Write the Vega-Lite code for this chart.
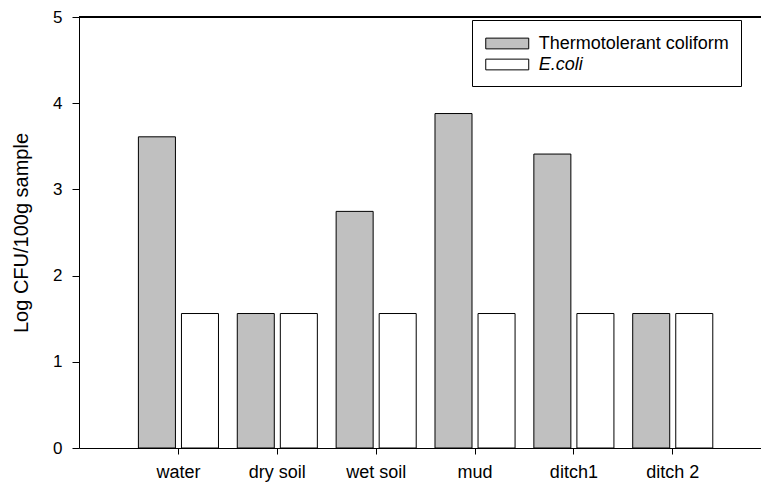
{
  "$schema": "https://vega.github.io/schema/vega-lite/v6.json",
  "autosize": {"type": "none"},
  "padding": {"left": 79, "top": 17, "right": 0, "bottom": 34},
  "width": 682,
  "height": 431,
  "background": "white",
  "config": {
    "view": {"stroke": null},
    "font": "Liberation Sans",
    "axis": {"labelFont": "Liberation Sans", "titleFont": "Liberation Sans", "labelColor": "black", "titleColor": "black", "domainColor": "black", "tickColor": "black", "grid": false, "titleFontWeight": "normal"},
    "legend": {"labelFont": "Liberation Sans"}
  },
  "data": {"values": [
    {"site": "water", "type": "Thermotolerant coliform", "value": 3.61},
    {"site": "water", "type": "E.coli", "value": 1.56},
    {"site": "dry soil", "type": "Thermotolerant coliform", "value": 1.56},
    {"site": "dry soil", "type": "E.coli", "value": 1.56},
    {"site": "wet soil", "type": "Thermotolerant coliform", "value": 2.745},
    {"site": "wet soil", "type": "E.coli", "value": 1.56},
    {"site": "mud", "type": "Thermotolerant coliform", "value": 3.88},
    {"site": "mud", "type": "E.coli", "value": 1.56},
    {"site": "ditch1", "type": "Thermotolerant coliform", "value": 3.41},
    {"site": "ditch1", "type": "E.coli", "value": 1.56},
    {"site": "ditch 2", "type": "Thermotolerant coliform", "value": 1.56},
    {"site": "ditch 2", "type": "E.coli", "value": 1.56}
  ]},
  "layer": [
    {
      "mark": {"type": "bar", "stroke": "black", "strokeWidth": 1},
      "encoding": {
        "x": {
          "field": "site", "type": "nominal",
          "sort": ["water", "dry soil", "wet soil", "mud", "ditch1", "ditch 2"],
          "scale": {"paddingInner": 0.19, "paddingOuter": 0.5443, "align": 0.552},
          "axis": {"title": null, "labelAngle": 0, "labelFontSize": 18, "tickSize": 6, "labelPadding": 9, "domainWidth": 1}
        },
        "xOffset": {
          "field": "type", "type": "nominal",
          "sort": ["Thermotolerant coliform", "E.coli"],
          "scale": {"paddingInner": 0.14, "paddingOuter": 0}
        },
        "y": {
          "field": "value", "type": "quantitative",
          "scale": {"domain": [0, 5], "nice": false},
          "axis": {"title": "Log CFU/100g sample", "values": [0, 1, 2, 3, 4, 5], "format": "d", "labelFontSize": 17, "titleFontSize": 20, "tickSize": 7, "labelPadding": 10, "titlePadding": 21}
        },
        "color": {
          "field": "type", "type": "nominal",
          "scale": {"domain": ["Thermotolerant coliform", "E.coli"], "range": ["#c0c0c0", "#ffffff"]},
          "legend": {
            "title": null,
            "orient": "none",
            "legendX": 393,
            "legendY": 3,
            "strokeColor": "black",
            "fillColor": "white",
            "padding": 12,
            "symbolType": "M-2,-0.5H2V0.5H-2Z",
            "symbolSize": 462,
            "symbolOffset": 11.75,
            "symbolStrokeColor": "black",
            "symbolStrokeWidth": 1,
            "symbolOpacity": 1,
            "labelFontSize": 18,
            "labelLimit": 400,
            "labelColor": "black",
            "labelOffset": 20,
            "rowPadding": 0,
            "labelExpr": "datum.value == 'E.coli' ? '\u00a0E.coli' : datum.label",
            "encode": {"labels": {"update": {"fontStyle": {"signal": "datum.value == 'E.coli' ? 'italic' : 'normal'"}}}}
          }
        }
      }
    },
    {
      "mark": {"type": "rule", "color": "black", "strokeWidth": 1},
      "encoding": {"y": {"datum": 5}}
    }
  ]
}
